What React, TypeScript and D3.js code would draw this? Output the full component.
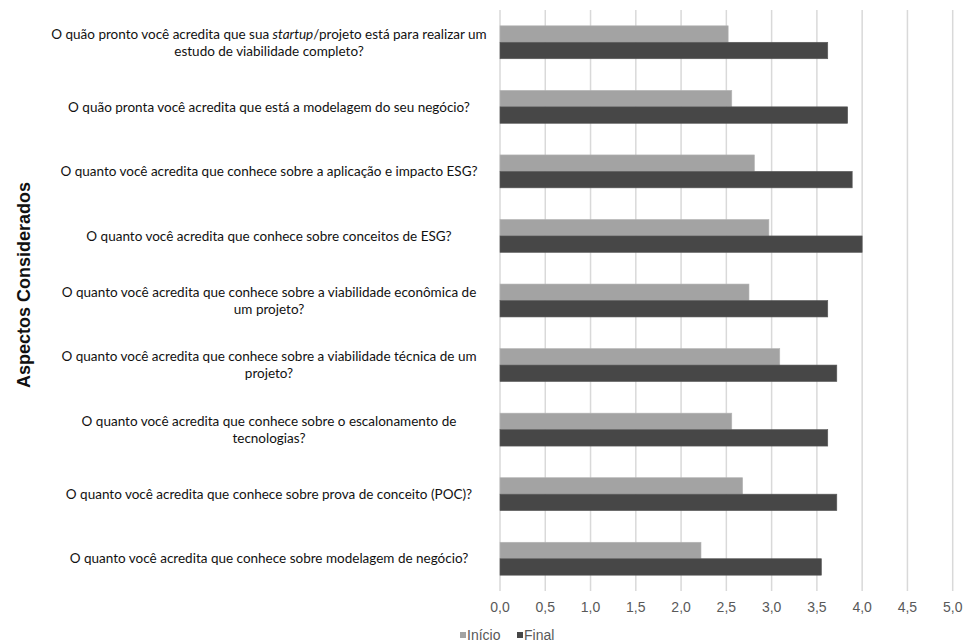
import React from "react";
import * as d3 from "d3";

const categories = [
  "O quão pronto você acredita que sua *startup*/projeto está para realizar um\nestudo de viabilidade completo?",
  "O quão pronta você acredita que está a modelagem do seu negócio?",
  "O quanto você acredita que conhece sobre a aplicação e impacto ESG?",
  "O quanto você acredita que conhece sobre conceitos de ESG?",
  "O quanto você acredita que conhece sobre a viabilidade econômica de\num projeto?",
  "O quanto você acredita que conhece sobre a viabilidade técnica de um\nprojeto?",
  "O quanto você acredita que conhece sobre o escalonamento de\ntecnologias?",
  "O quanto você acredita que conhece sobre prova de conceito (POC)?",
  "O quanto você acredita que conhece sobre modelagem de negócio?",
];
const inicio = [2.52, 2.56, 2.81, 2.97, 2.75, 3.09, 2.56, 2.68, 2.22];
const final = [3.62, 3.84, 3.89, 4.0, 3.62, 3.72, 3.62, 3.72, 3.55];
const seriesNames = ["Início", "Final"];
const seriesColors = ["#a3a3a3", "#474747"];
const xTicks = [0, 0.5, 1, 1.5, 2, 2.5, 3, 3.5, 4, 4.5, 5];
const yTitle = "Aspectos Considerados";

export default function App() {
  const W = 965, H = 642;
  const x = d3.scaleLinear().domain([0, 5]).range([500, 952.7]);
  const y = d3
    .scaleBand<number>()
    .domain(d3.range(categories.length))
    .range([10, 591])
    .paddingInner(0.49)
    .paddingOuter(0.245);
  const sub = d3.scaleBand<string>().domain(seriesNames).range([0, y.bandwidth()]);
  const series = [inicio, final];
  const fmt = (v: number) => d3.format(".1f")(v).replace(".", ",");
  const labelFont = "Lato, 'Open Sans', sans-serif";
  const lineH = 17;

  return (
    <svg
      width={W}
      height={H}
      style={{ position: "absolute", left: 0, top: 0, background: "#fff" }}
      fontFamily="'Liberation Sans', Arial, sans-serif"
    >
      <rect width={W} height={H} fill="#fff" />
      {xTicks.map((t) => (
        <line
          key={"g" + t}
          x1={x(t)}
          x2={x(t)}
          y1={10}
          y2={591}
          stroke="#d9d9d9"
          strokeWidth={1.5}
        />
      ))}
      {series.map((vals, si) =>
        vals.map((v, i) => (
          <rect
            key={si + "-" + i}
            x={x(0)}
            y={(y(i) as number) + (sub(seriesNames[si]) as number)}
            width={x(v) - x(0)}
            height={sub.bandwidth()}
            fill={seriesColors[si]}
            stroke={si === 0 ? "#b5b5b5" : "#5a5a5a"}
            strokeWidth={0.6}
          />
        ))
      )}
      {xTicks.map((t) => (
        <text
          key={"t" + t}
          x={x(t)}
          y={612}
          textAnchor="middle"
          fontSize={14}
          fill="#595959"
        >
          {fmt(t)}
        </text>
      ))}
      {categories.map((c, i) => {
        const lines = c.split("\n");
        const cy = (y(i) as number) + y.bandwidth() / 2;
        const y0 = cy - ((lines.length - 1) * lineH) / 2;
        return (
          <text
            key={"c" + i}
            textAnchor="middle"
            fontFamily={labelFont}
            fontSize={13.5}
            fill="#111"
          >
            {lines.map((ln, li) => (
              <tspan key={li} x={269} y={y0 + li * lineH} dy="0.35em">
                {ln.split("*").map((part, pi) => (
                  <tspan key={pi} fontStyle={pi % 2 === 1 ? "italic" : "normal"}>
                    {part}
                  </tspan>
                ))}
              </tspan>
            ))}
          </text>
        );
      })}
      <text
        transform={`translate(30,285) rotate(-90)`}
        textAnchor="middle"
        fontSize={18}
        fontWeight="bold"
        fill="#111"
      >
        {yTitle}
      </text>
      {seriesNames.map((s, si) => {
        const lx = [460, 517][si];
        return (
          <g key={"l" + s}>
            <rect x={lx} y={632} width={6} height={6} fill={seriesColors[si]} />
            <text x={lx + 7} y={640} fontSize={14} fill="#595959">
              {s}
            </text>
          </g>
        );
      })}
    </svg>
  );
}
